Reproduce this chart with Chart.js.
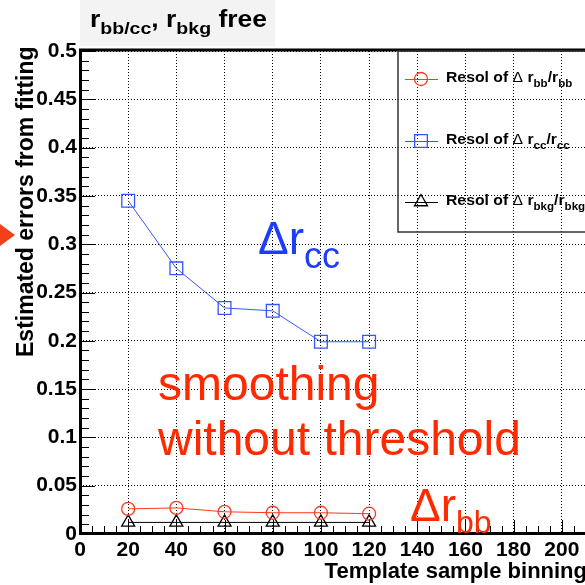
<!DOCTYPE html>
<html>
<head>
<meta charset="utf-8">
<script src="https://cdn.jsdelivr.net/npm/chart.js@4.4.0/dist/chart.umd.min.js"></script>
<style>
  html, body { margin: 0; padding: 0; background: #fff; overflow: hidden; }
  #wrap { position: absolute; left: 0; top: 0; width: 625px; height: 585px; }
</style>
</head>
<body>
<div id="wrap"><canvas id="chart" width="625" height="585"></canvas></div>
<script>
// values
const binning = [20, 40, 60, 80, 100, 120];
const resolBB = [0.026, 0.027, 0.023, 0.022, 0.022, 0.021];
const resolCC = [0.345, 0.275, 0.234, 0.231, 0.199, 0.199];
const resolBkg = [0.012, 0.012, 0.012, 0.012, 0.012, 0.012];
const seriesLabels = [
  'Resol of Δ r_{bb}/r_{bb}',
  'Resol of Δ r_{cc}/r_{cc}',
  'Resol of Δ r_{bkg}/r_{bkg}',
];
const xRange = [0, 220];
const xStep = 20;
const xMinorStep = 5;
const yRange = [0, 0.5];
const yStep = 0.05;
const yMinorStep = 0.01;
const plotTitle = 'r_{bb/cc}, r_{bkg} free';
const yTitle = 'Estimated errors from fitting';
const xTitle = 'Template sample binning';

const FONT = "'Liberation Sans', Arial, Helvetica, sans-serif";
const RED = '#ff3a1c';
const BLUE = '#3556ff';
const TXT_RED = '#ff2a00';
const TXT_BLUE = '#1e3cff';

// split "a_{b}c" into normal / subscript pieces
function richParts(str) {
  const parts = [];
  str.split(/(_\{[^}]*\})/).forEach(s => {
    if (!s) return;
    if (s.startsWith('_{')) parts.push({ t: s.slice(2, -1), sub: true });
    else parts.push({ t: s, sub: false });
  });
  return parts;
}

function drawRich(ctx, str, x, y, o) {
  ctx.save();
  ctx.translate(x, y);
  ctx.scale(o.sx || 1, 1);
  ctx.fillStyle = o.color || '#000';
  ctx.textAlign = 'left';
  ctx.textBaseline = 'alphabetic';
  let cx = 0;
  richParts(str).forEach(p => {
    p.t.split(/(Δ)/).forEach(seg => {
      if (!seg) return;
      const w = seg === 'Δ' ? 'normal' : (o.weight || 'normal');
      ctx.font = `${w} ${p.sub ? o.sub : o.size}px ${FONT}`;
      ctx.fillText(seg, cx, p.sub ? o.dy : 0);
      cx += ctx.measureText(seg).width;
    });
  });
  ctx.restore();
}

const rootStyle = {
  id: 'rootStyle',
  afterDraw(chart) {
    const ctx = chart.ctx;
    const a = chart.chartArea;
    const xs = chart.scales.x;
    const ys = chart.scales.y;
    ctx.save();

    // minor / major ticks pointing inward
    ctx.strokeStyle = '#000';
    ctx.lineWidth = 1;
    ctx.beginPath();
    const ny = Math.round((yRange[1] - yRange[0]) / yMinorStep);
    for (let i = 0; i <= ny; i++) {
      const py = Math.round(ys.getPixelForValue(yRange[0] + i * yMinorStep)) + 0.5;
      const len = i % 5 === 0 ? 15 : 9;
      ctx.moveTo(a.left, py);
      ctx.lineTo(a.left + len, py);
    }
    const nx = Math.round((xRange[1] - xRange[0]) / xMinorStep);
    for (let i = 0; i <= nx; i++) {
      const px = Math.round(xs.getPixelForValue(xRange[0] + i * xMinorStep)) + 0.5;
      const len = i % 4 === 0 ? 14 : 8;
      ctx.moveTo(px, a.bottom);
      ctx.lineTo(px, a.bottom - len);
    }
    ctx.stroke();

    // frame
    ctx.lineWidth = 3;
    ctx.beginPath();
    ctx.moveTo(a.left + 0.5, a.top - 1);
    ctx.lineTo(a.left + 0.5, a.bottom);
    ctx.moveTo(a.left - 1, a.bottom - 0.5);
    ctx.lineTo(a.right, a.bottom - 0.5);
    ctx.moveTo(a.left - 1, a.top - 1);
    ctx.lineTo(a.right, a.top - 1);
    ctx.stroke();

    // legend box
    ctx.lineWidth = 1.5;
    ctx.strokeStyle = '#333';
    ctx.strokeRect(398, a.top, 300, 181);
    const rows = [79, 141, 202];
    chart.data.datasets.forEach((ds, i) => {
      const ry = rows[i];
      ctx.strokeStyle = ds.borderColor;
      ctx.fillStyle = 'rgba(0,0,0,0)';
      ctx.lineWidth = 1.2;
      ctx.beginPath();
      ctx.moveTo(405, ry + 0.5);
      ctx.lineTo(438, ry + 0.5);
      ctx.stroke();
      ctx.lineWidth = ds.pointBorderWidth;
      Chart.helpers.drawPoint(ctx, {
        pointStyle: ds.pointStyle, radius: ds.pointRadius, rotation: 0,
        borderWidth: ds.pointBorderWidth,
      }, 421, ry);
      drawRich(ctx, ds.label, 446, ry + 3,
        { size: 15, sub: 11, dy: 5, weight: 'bold', sx: 1.05, color: '#000' });
    });

    // plot title
    ctx.fillStyle = '#f3f3f3';
    ctx.fillRect(80, 0, 195, 46);
    drawRich(ctx, plotTitle, 90, 27, { size: 23, sub: 17, dy: 7, weight: 'bold', sx: 1.15 });

    // axis titles
    ctx.fillStyle = '#000';
    ctx.font = `bold 23px ${FONT}`;
    ctx.save();
    ctx.translate(33, 357);
    ctx.rotate(-Math.PI / 2);
    ctx.textAlign = 'left';
    ctx.fillText(yTitle, 0, 0);
    ctx.restore();
    ctx.font = `bold 22px ${FONT}`;
    ctx.textAlign = 'right';
    ctx.fillText(xTitle, 587, 578);

    // slide annotations
    drawRich(ctx, 'Δr_{cc}', 258, 254, { size: 46, sub: 36, dy: 14, color: TXT_BLUE });
    drawRich(ctx, 'smoothing', 158, 400, { size: 48, color: TXT_RED });
    drawRich(ctx, 'without threshold', 158, 455, { size: 48, color: TXT_RED });
    drawRich(ctx, 'Δr_{bb}', 410, 521, { size: 46, sub: 32, dy: 12, color: TXT_RED });

    // arrow at left edge
    ctx.fillStyle = '#f2401a';
    ctx.beginPath();
    ctx.moveTo(0, 224);
    ctx.lineTo(15, 235);
    ctx.lineTo(0, 246);
    ctx.closePath();
    ctx.fill();

    ctx.restore();
  },
};

const tickFont = { family: FONT, weight: 'bold', size: 21 };

function series(label, values, color, style, radius) {
  return {
    label,
    data: binning.map((x, i) => ({ x, y: values[i] })),
    borderColor: color,
    borderWidth: 1,
    pointStyle: style,
    pointRadius: radius,
    pointBorderColor: color,
    pointBackgroundColor: 'rgba(0,0,0,0)',
    pointBorderWidth: 1.3,
    tension: 0,
  };
}

new Chart(document.getElementById('chart').getContext('2d'), {
  type: 'line',
  data: {
    datasets: [
      series(seriesLabels[0], resolBB, RED, 'circle', 6.5),
      series(seriesLabels[1], resolCC, BLUE, 'rect', 9),
      series(seriesLabels[2], resolBkg, '#000', 'triangle', 7.5),
    ],
  },
  options: {
    responsive: false,
    animation: false,
    devicePixelRatio: 1,
    layout: { padding: { top: 51, right: 15, left: 0, bottom: 0 }, autoPadding: false },
    plugins: { legend: { display: false }, tooltip: { enabled: false } },
    scales: {
      x: {
        type: 'linear',
        min: xRange[0],
        max: xRange[1],
        ticks: { stepSize: xStep, padding: 4, maxRotation: 0, autoSkip: false, font: tickFont, color: '#000' },
        grid: { color: '#000', lineWidth: 1, drawTicks: false },
        border: { display: false, dash: [1, 2] },
        afterFit: s => { s.height = 51; s.paddingLeft = 0; s.paddingRight = 0; },
      },
      y: {
        min: yRange[0],
        max: yRange[1],
        ticks: { stepSize: yStep, padding: 3, font: tickFont, color: '#000', callback: v => String(+v.toFixed(2)) },
        grid: { color: '#000', lineWidth: 1, drawTicks: false },
        border: { display: false, dash: [1, 2] },
        afterFit: s => { s.width = 80; s.paddingTop = 0; s.paddingBottom = 0; },
      },
    },
  },
  plugins: [rootStyle],
});
</script>
</body>
</html>
